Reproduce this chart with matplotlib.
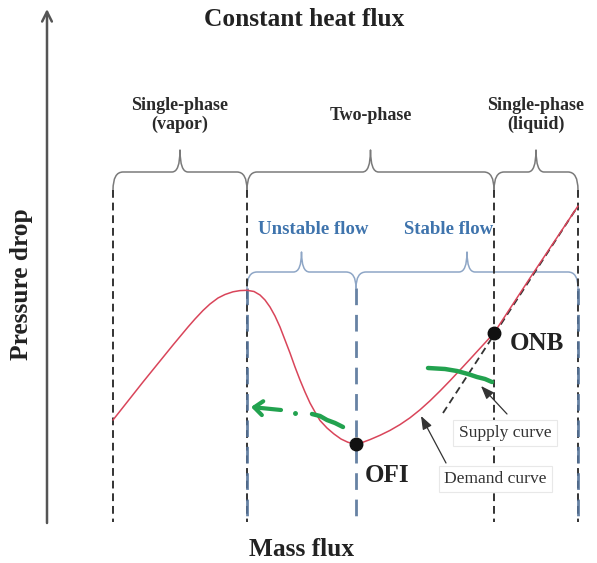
import matplotlib
matplotlib.use("Agg")
import matplotlib.pyplot as plt
from matplotlib.path import Path
from matplotlib.patches import PathPatch

# ---------------- data (schematic units) ----------------
# demand curve: mass flux vs pressure drop (screen-like units, y grows downward)
demand_x = [113, 128, 143, 158, 173, 188, 195, 203, 210, 218, 225, 233, 240, 247,
            254, 260, 265, 270, 275, 280, 285, 290, 295, 300, 305, 310, 315,
            320, 327, 334, 341, 348, 356,
            363, 370, 380, 390, 400, 410, 420, 430, 440, 450, 460, 470, 480,
            490, 494, 530, 578]
demand_y = [420, 401, 382, 363.5, 345, 327, 319, 310.5, 304, 298, 294.5, 291.8, 290.6, 290.3,
            291.5, 295, 300, 307, 316, 327, 340, 353, 367, 380, 392, 403, 412,
            420.5, 428, 434, 439, 442.3, 444,
            442.2, 439.6, 435.3, 430.4, 424.6, 417.8, 409.8, 400.8, 391.0, 380.7,
            370.0, 359.2, 348.3, 337.4, 333, 278, 206]

# supply curves (green)
supply1_x = [428, 445, 457, 468, 477, 485, 492]
supply1_y = [368, 369, 371, 374, 377, 379, 382]
supply2_x = [312, 320, 327, 335, 343]
supply2_y = [414, 416, 420, 423, 427]

# single-phase liquid tangent (dashed)
tangent_x = [443, 578]
tangent_y = [413, 206]

# key points
ofi = (356, 444)
onb = (494, 333)

# region boundaries
phase_bounds = [113, 247, 494, 578]
phase_labels = ["Single-phase\n(vapor)", "Two-phase", "Single-phase\n(liquid)"]
flow_bounds = [247, 356, 578]
flow_labels = ["Unstable flow", "Stable flow"]

# ---------------- figure ----------------
W, H = 597, 563
fig = plt.figure(figsize=(W / 100, H / 100), dpi=100)
ax = fig.add_axes([0, 0, 1, 1])
ax.set_xlim(0, W)
ax.set_ylim(H, 0)
ax.axis("off")

SERIF = ["Liberation Serif", "DejaVu Serif"]
AX_ORIGIN = (47, 522)

# axes arrows
ax.annotate("", xy=(AX_ORIGIN[0], 9), xytext=(AX_ORIGIN[0], AX_ORIGIN[1] + 1),
            arrowprops=dict(arrowstyle="->,head_length=0.7,head_width=0.35",
                            color="#555555", lw=1.8, shrinkA=0, shrinkB=0))
ax.annotate("", xy=(598, AX_ORIGIN[1]), xytext=(AX_ORIGIN[0] - 1, AX_ORIGIN[1]),
            arrowprops=dict(arrowstyle="->,head_length=0.7,head_width=0.35",
                            color="#555555", lw=1.8, shrinkA=0, shrinkB=0))


def brace(x0, x1, y, xt, hend, htip, color, lw, r=10, r2=8):
    verts = [(x0, y + hend), (x0, y), (x0 + r, y),
             (xt - r2, y), (xt, y), (xt, y - htip),
             (xt, y), (xt + r2, y),
             (x1 - r, y), (x1, y), (x1, y + hend)]
    codes = [Path.MOVETO, Path.CURVE3, Path.CURVE3,
             Path.LINETO, Path.CURVE3, Path.CURVE3,
             Path.CURVE3, Path.CURVE3,
             Path.LINETO, Path.CURVE3, Path.CURVE3]
    ax.add_patch(PathPatch(Path(verts, codes), fill=False, edgecolor=color, lw=lw,
                           capstyle="round", joinstyle="round"))


# vertical dashed lines
for xb in phase_bounds:
    ax.plot([xb, xb], [190, 522], color="#333333", lw=1.4, ls=(0, (4, 2.5)))
for xb in flow_bounds:
    ax.plot([xb, xb], [288, 522], color="#56749a", lw=2.0, ls=(0, (6, 3.5)), alpha=0.9)

# phase braces and labels
for i in range(len(phase_labels)):
    x0, x1 = phase_bounds[i], phase_bounds[i + 1]
    xt = (x0 + x1) / 2
    brace(x0, x1, 172, xt, 18, 22, "#7a7a7a", 1.1)
    ax.text(xt, 115, phase_labels[i], ha="center", va="center", family=SERIF,
            fontweight="bold", fontsize=13, color="#2a2a2a", linespacing=1.2)

# flow braces and labels
flow_label_x = [313, 449]
for i in range(len(flow_labels)):
    x0, x1 = flow_bounds[i], flow_bounds[i + 1]
    xt = (x0 + x1) / 2
    brace(x0, x1, 272, xt, 16, 20, "#8ea6c6", 1.1)
    ax.text(flow_label_x[i], 229, flow_labels[i], ha="center", va="center",
            family=SERIF, fontweight="bold", fontsize=13.5, color="#3f74ad")

# tangent and demand curve
ax.plot(tangent_x, tangent_y, color="#333333", lw=1.3, ls=(0, (4, 2.5)))
ax.plot(demand_x, demand_y, color="#d9455a", lw=1.1, solid_capstyle="round",
        solid_joinstyle="round")

# supply curves
ax.plot(supply1_x, supply1_y, color="#22a24f", lw=3.2, solid_capstyle="round")
ax.plot(supply2_x, supply2_y, color="#22a24f", lw=3.2, solid_capstyle="round")

# green arrow (dash-dot) toward lower flow
ax.annotate("", xy=(251, 407), xytext=(281, 410),
            arrowprops=dict(arrowstyle="->,head_length=0.6,head_width=0.5",
                            color="#22a24f", lw=3.0, shrinkA=0, shrinkB=0))
ax.plot([295], [413], "o", color="#22a24f", ms=2.5)

# OFI / ONB points
ax.plot([ofi[0], onb[0]], [ofi[1], onb[1]], "o", color="#111111", ms=9, zorder=5)
ax.text(387, 476, "OFI", ha="center", va="center", family=SERIF,
        fontweight="bold", fontsize=18, color="#222222")
ax.text(537, 343, "ONB", ha="center", va="center", family=SERIF,
        fontweight="bold", fontsize=18, color="#222222")

# annotations
box = dict(boxstyle="square,pad=0.3", fc="white", ec="#e8e8e8", lw=0.8)
ax.text(505, 433, "Supply curve", ha="center", va="center", family=SERIF,
        fontsize=12.6, color="#333333", bbox=box)
ax.text(495, 479, "Demand curve", ha="center", va="center", family=SERIF,
        fontsize=12.6, color="#333333", bbox=box)
ax.annotate("", xy=(481, 386), xytext=(507, 414),
            arrowprops=dict(arrowstyle="-|>,head_length=0.8,head_width=0.3",
                            color="#333333", lw=0.9, shrinkA=0, shrinkB=0))
ax.annotate("", xy=(421, 416), xytext=(446, 463),
            arrowprops=dict(arrowstyle="-|>,head_length=0.8,head_width=0.3",
                            color="#333333", lw=0.9, shrinkA=0, shrinkB=0))

# titles
ax.text(304, 19, "Constant heat flux", ha="center", va="center", family=SERIF,
        fontweight="bold", fontsize=18.3, color="#222222")
ax.text(22, 284, "Pressure drop", ha="center", va="center", rotation=90,
        family=SERIF, fontweight="bold", fontsize=18.3, color="#222222")
ax.text(302, 549, "Mass flux", ha="center", va="center", family=SERIF,
        fontweight="bold", fontsize=18.3, color="#222222")

fig.savefig("out.png", dpi=100)
